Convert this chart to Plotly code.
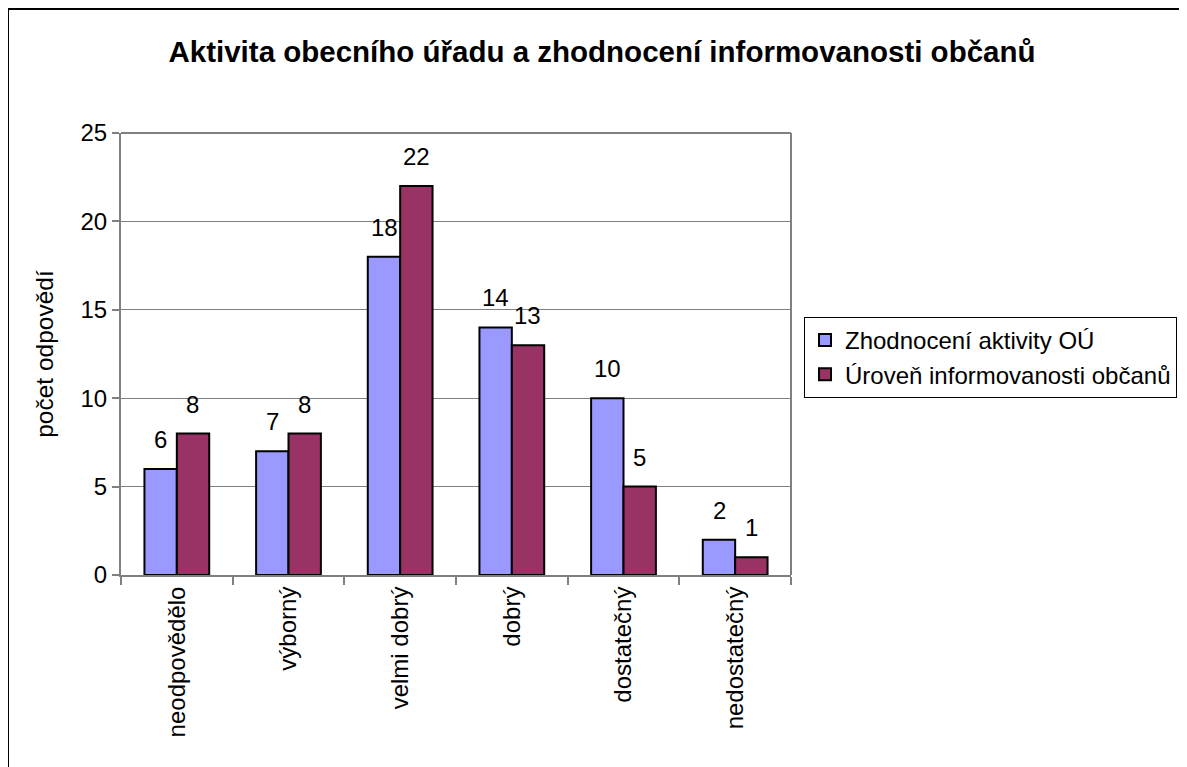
import plotly.graph_objects as go

categories = ["neodpovědělo", "výborný", "velmi dobrý", "dobrý", "dostatečný", "nedostatečný"]
aktivita = [6, 7, 18, 14, 10, 2]
informovanost = [8, 8, 22, 13, 5, 1]
series_names = ["Zhodnocení aktivity OÚ", "Úroveň informovanosti občanů"]
y_ticks = [0, 5, 10, 15, 20, 25]

font_family = "Liberation Sans, Arial, sans-serif"

# page has an 8px body margin, so figure coords = screen coords - 8
OFF = 8
W, H = 1187, 767
L, R, T, B = 121 - OFF, 791 - OFF, 133 - OFF, 575 - OFF
pw, ph = R - L, B - T
bar_px = 32  # approx. width of one bar in pixels


def px(x):
    return (x - OFF - L) / pw


def py(y):
    return (B - (y - OFF)) / ph


fig = go.Figure()
series = [(series_names[0], aktivita, "#9999FF", -bar_px / 2),
          (series_names[1], informovanost, "#993366", bar_px / 2)]
for name, vals, color, shift in series:
    fig.add_trace(go.Bar(
        x=categories, y=vals, name=name,
        marker=dict(color=color, line=dict(color="black", width=2)),
    ))
    # value labels sit a little above the bars, as in the original
    for cat, v in zip(categories, vals):
        fig.add_annotation(x=cat, y=v, text=str(v), showarrow=False,
                           xshift=shift, yshift=14, yanchor="bottom",
                           font=dict(size=24, color="black"))

fig.update_layout(
    width=W, height=H,
    margin=dict(l=L, r=W - R, t=T, b=H - B),
    paper_bgcolor="white", plot_bgcolor="white",
    font=dict(family=font_family, color="black", size=24),
    barmode="group", bargap=0.42, bargroupgap=0,
    title=dict(text="<b>Aktivita obecního úřadu a zhodnocení informovanosti občanů</b>",
               x=(602 - OFF) / W, xanchor="center", y=1 - (52 - OFF) / H, yanchor="middle",
               font=dict(size=29.5)),
    legend=dict(x=px(804), y=py(317), xanchor="left", yanchor="top",
                bordercolor="black", borderwidth=1, bgcolor="white",
                font=dict(size=24), itemwidth=30),
    showlegend=True,
)

fig.update_xaxes(
    type="category", showline=True, linecolor="#808080", linewidth=2,
    ticks="outside", tickson="boundaries", ticklen=8, tickcolor="#808080", tickwidth=2,
    tickangle=-90, tickfont=dict(size=24), showgrid=False,
)
fig.update_yaxes(
    range=[0, 25], tickvals=y_ticks, showline=True, linecolor="#808080", linewidth=2,
    ticks="outside", ticklen=7, tickcolor="#808080", tickwidth=2, showgrid=True,
    gridcolor="#808080", gridwidth=1, zeroline=False, tickfont=dict(size=24),
    title=dict(text="počet odpovědí", font=dict(size=24.5), standoff=20),
)

# gray plot-area border (top and right) and outer chart frame (left, top)
fig.add_shape(type="line", xref="paper", yref="paper", x0=0, x1=1, y0=1, y1=1,
              line=dict(color="#808080", width=2))
fig.add_shape(type="line", xref="paper", yref="paper", x0=1, x1=1, y0=0, y1=1,
              line=dict(color="#808080", width=2))
fig.add_shape(type="rect", xref="paper", yref="paper",
              x0=px(8), x1=px(1200), y0=py(780), y1=py(9),
              line=dict(color="black", width=2), layer="above")

fig.write_html("out.html")
